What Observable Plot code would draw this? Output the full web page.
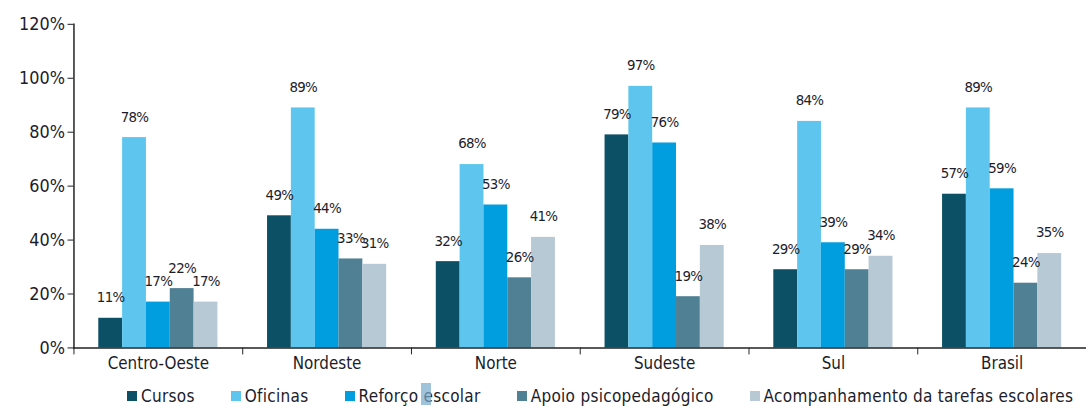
<!DOCTYPE html>
<html><head><meta charset="utf-8">
<script src="https://cdn.jsdelivr.net/npm/d3@7"></script>
<script src="https://cdn.jsdelivr.net/npm/@observablehq/plot@0.6"></script>
<style>
html,body{margin:0;padding:0;background:#fff;overflow:hidden;}
body{font-family:"Liberation Sans Narrow","DejaVu Sans Condensed",sans-serif;color:#1c1c2a;}
#legend{display:flex;gap:36px;padding-left:127px;margin-top:11px;font-size:17px;align-items:center;letter-spacing:0.3px;}
#legend .it{display:flex;align-items:center;gap:4px;position:relative;}
#legend .sw{width:10px;height:10px;display:inline-block;}
#legend .ghost{position:absolute;width:10px;height:22px;background:rgba(120,170,205,0.7);top:-3px;}
#chart g[aria-label="text"] text{letter-spacing:-0.7px;}
</style></head>
<body>
<div id="chart"></div>
<div id="legend"></div>
<script>
const regions = ["Centro-Oeste","Nordeste","Norte","Sudeste","Sul","Brasil"];
const seriesNames = ["Cursos","Oficinas","Reforço escolar","Apoio psicopedagógico","Acompanhamento da tarefas escolares"];
const cursos = [11,49,32,79,29,57];
const oficinas = [78,89,68,97,84,89];
const reforco = [17,44,53,76,39,59];
const apoio = [22,33,26,19,29,24];
const acompanhamento = [17,31,41,38,34,35];
const colors = ["#0b5065","#5ec6ee","#009ddf","#4f8094","#b6c9d4"];
const yTicks = [0,20,40,60,80,100,120];

const seriesValues = [cursos,oficinas,reforco,apoio,acompanhamento];
const data = [];
regions.forEach((r,i)=>seriesValues.forEach((vals,j)=>data.push({region:r,series:seriesNames[j],value:vals[i]})));

const font = '"Liberation Sans Narrow","DejaVu Sans Condensed",sans-serif';
const chart = Plot.plot({
  width: 1096, height: 378,
  marginLeft: 72, marginRight: 0, marginTop: 24, marginBottom: 28,
  style: {fontFamily: font, fontSize: "16px", color: "#1c1c2a", background: "#fff"},
  fx: {domain: regions, padding: 0, label: null},
  x: {domain: seriesNames, paddingInner: 0, paddingOuter: 1, axis: null},
  y: {domain: [0,120], label: null},
  color: {domain: seriesNames, range: colors},
  marks: [
    Plot.axisY({ticks: yTicks, tickFormat: d => d + "%", tickSize: 6, tickPadding: 3, fontSize: 18, label: null}),
    Plot.axisFx({anchor: "bottom", tickSize: 0, tickPadding: 9, fontSize: 17, label: null}),
    Plot.barY(data, {fx: "region", x: "series", y: "value", fill: "series"}),
    Plot.text(data, {fx: "region", x: "series", y: "value", text: d => d.value + "%", dy: -21, fontSize: 15, fill: "#1c1c2a"}),
    Plot.frame({anchor: "left", insetTop: 326, insetBottom: -6, stroke: "#222"}),
    Plot.frame({anchor: "left", facetAnchor: "left", stroke: "#222", strokeWidth: 1.5}),
    Plot.ruleY([0], {stroke: "#222", strokeWidth: 1.5})
  ]
});
document.getElementById("chart").appendChild(chart);

const lg = document.getElementById("legend");
seriesNames.forEach((n,i)=>{
  const it = document.createElement("div"); it.className="it";
  const sw = document.createElement("span"); sw.className="sw"; sw.style.background=colors[i];
  const t = document.createElement("span"); t.textContent=n;
  it.appendChild(sw); it.appendChild(t); lg.appendChild(it);
  if (i === 2) {
    const g = document.createElement("span"); g.className = "ghost"; g.style.left = "76px";
    it.appendChild(g);
  }
});
</script>
</body></html>
